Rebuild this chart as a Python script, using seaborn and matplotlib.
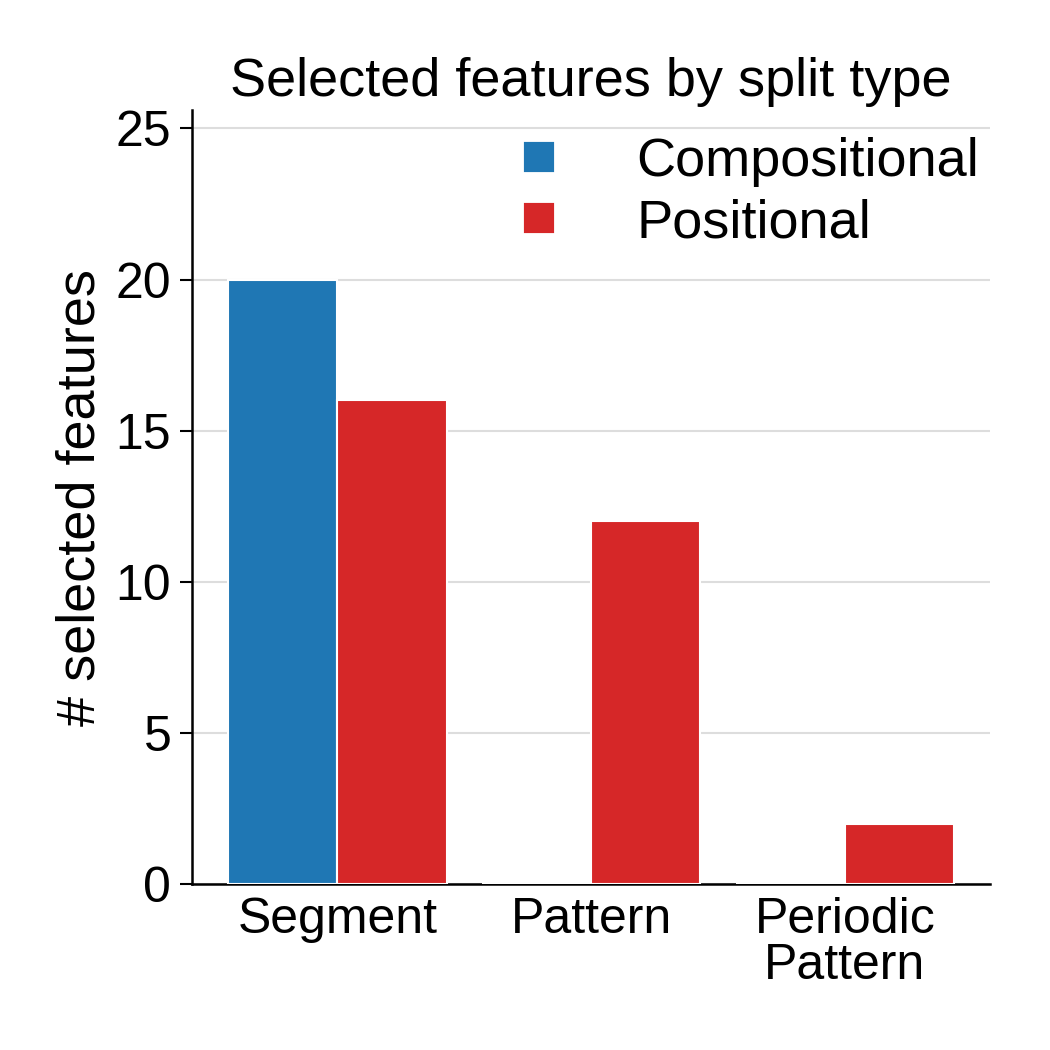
import pandas as pd
import matplotlib
matplotlib.use("Agg")
import matplotlib.pyplot as plt
from matplotlib.lines import Line2D
import seaborn as sns

# data
categories = ["Segment", "Pattern", "Periodic\nPattern"]
split_types = ["Compositional", "Positional"]
compositional = [20, 0, 0]
positional = [16, 12, 2]
colors = {"Compositional": "#1f77b4", "Positional": "#d62728"}

df = pd.DataFrame({
    "feature": categories * 2,
    "split": ["Compositional"] * 3 + ["Positional"] * 3,
    "count": compositional + positional,
})

sns.set_style("ticks")
plt.rcParams["font.family"] = ["Liberation Sans", "DejaVu Sans"]
plt.rcParams["font.size"] = 12
plt.rcParams["text.color"] = "black"
plt.rcParams["axes.labelcolor"] = "black"
plt.rcParams["xtick.color"] = "black"
plt.rcParams["ytick.color"] = "black"

fig = plt.figure(figsize=(3.5, 3.5), dpi=300)
ax = fig.add_axes([0.183, 0.158, 0.760, 0.737])

sns.barplot(data=df, x="feature", y="count", hue="split", order=categories,
            hue_order=split_types, palette=colors, width=0.86, saturation=1,
            edgecolor="white", linewidth=0.5, legend=False, ax=ax)
for p in ax.patches:
    p.set_zorder(3)

ax.set_ylim(0, 25.6)
ax.set_xlim(-0.573, 2.573)
ax.set_yticks([0, 5, 10, 15, 20, 25])
ax.yaxis.grid(True, color="#dddddd", linewidth=0.5, zorder=0)
ax.set_axisbelow(True)
ax.tick_params(axis="x", length=0, labelsize=12, pad=3)
ax.tick_params(axis="y", length=3, width=0.5, labelsize=12, pad=2)
for lbl in ax.get_xticklabels():
    lbl.set_linespacing(1.0)
for side in ["left", "bottom"]:
    ax.spines[side].set_linewidth(0.6)
    ax.spines[side].set_color("black")
sns.despine(ax=ax)

ax.set_xlabel("")
ax.set_ylabel("# selected features", fontsize=13, labelpad=2.5)
ax.set_title("Selected features by split type", fontsize=13, pad=3.5)

handles = [Line2D([], [], marker="s", linestyle="none", markersize=6.3,
                  markerfacecolor=colors[s], markeredgecolor=colors[s])
           for s in split_types]
ax.legend(handles, split_types, loc="upper right", frameon=False,
          fontsize=13, handlelength=2, handletextpad=0.8,
          labelspacing=0.2, borderaxespad=0.0,
          bbox_to_anchor=(1.013, 0.993))

fig.savefig("out.png", dpi=300)
